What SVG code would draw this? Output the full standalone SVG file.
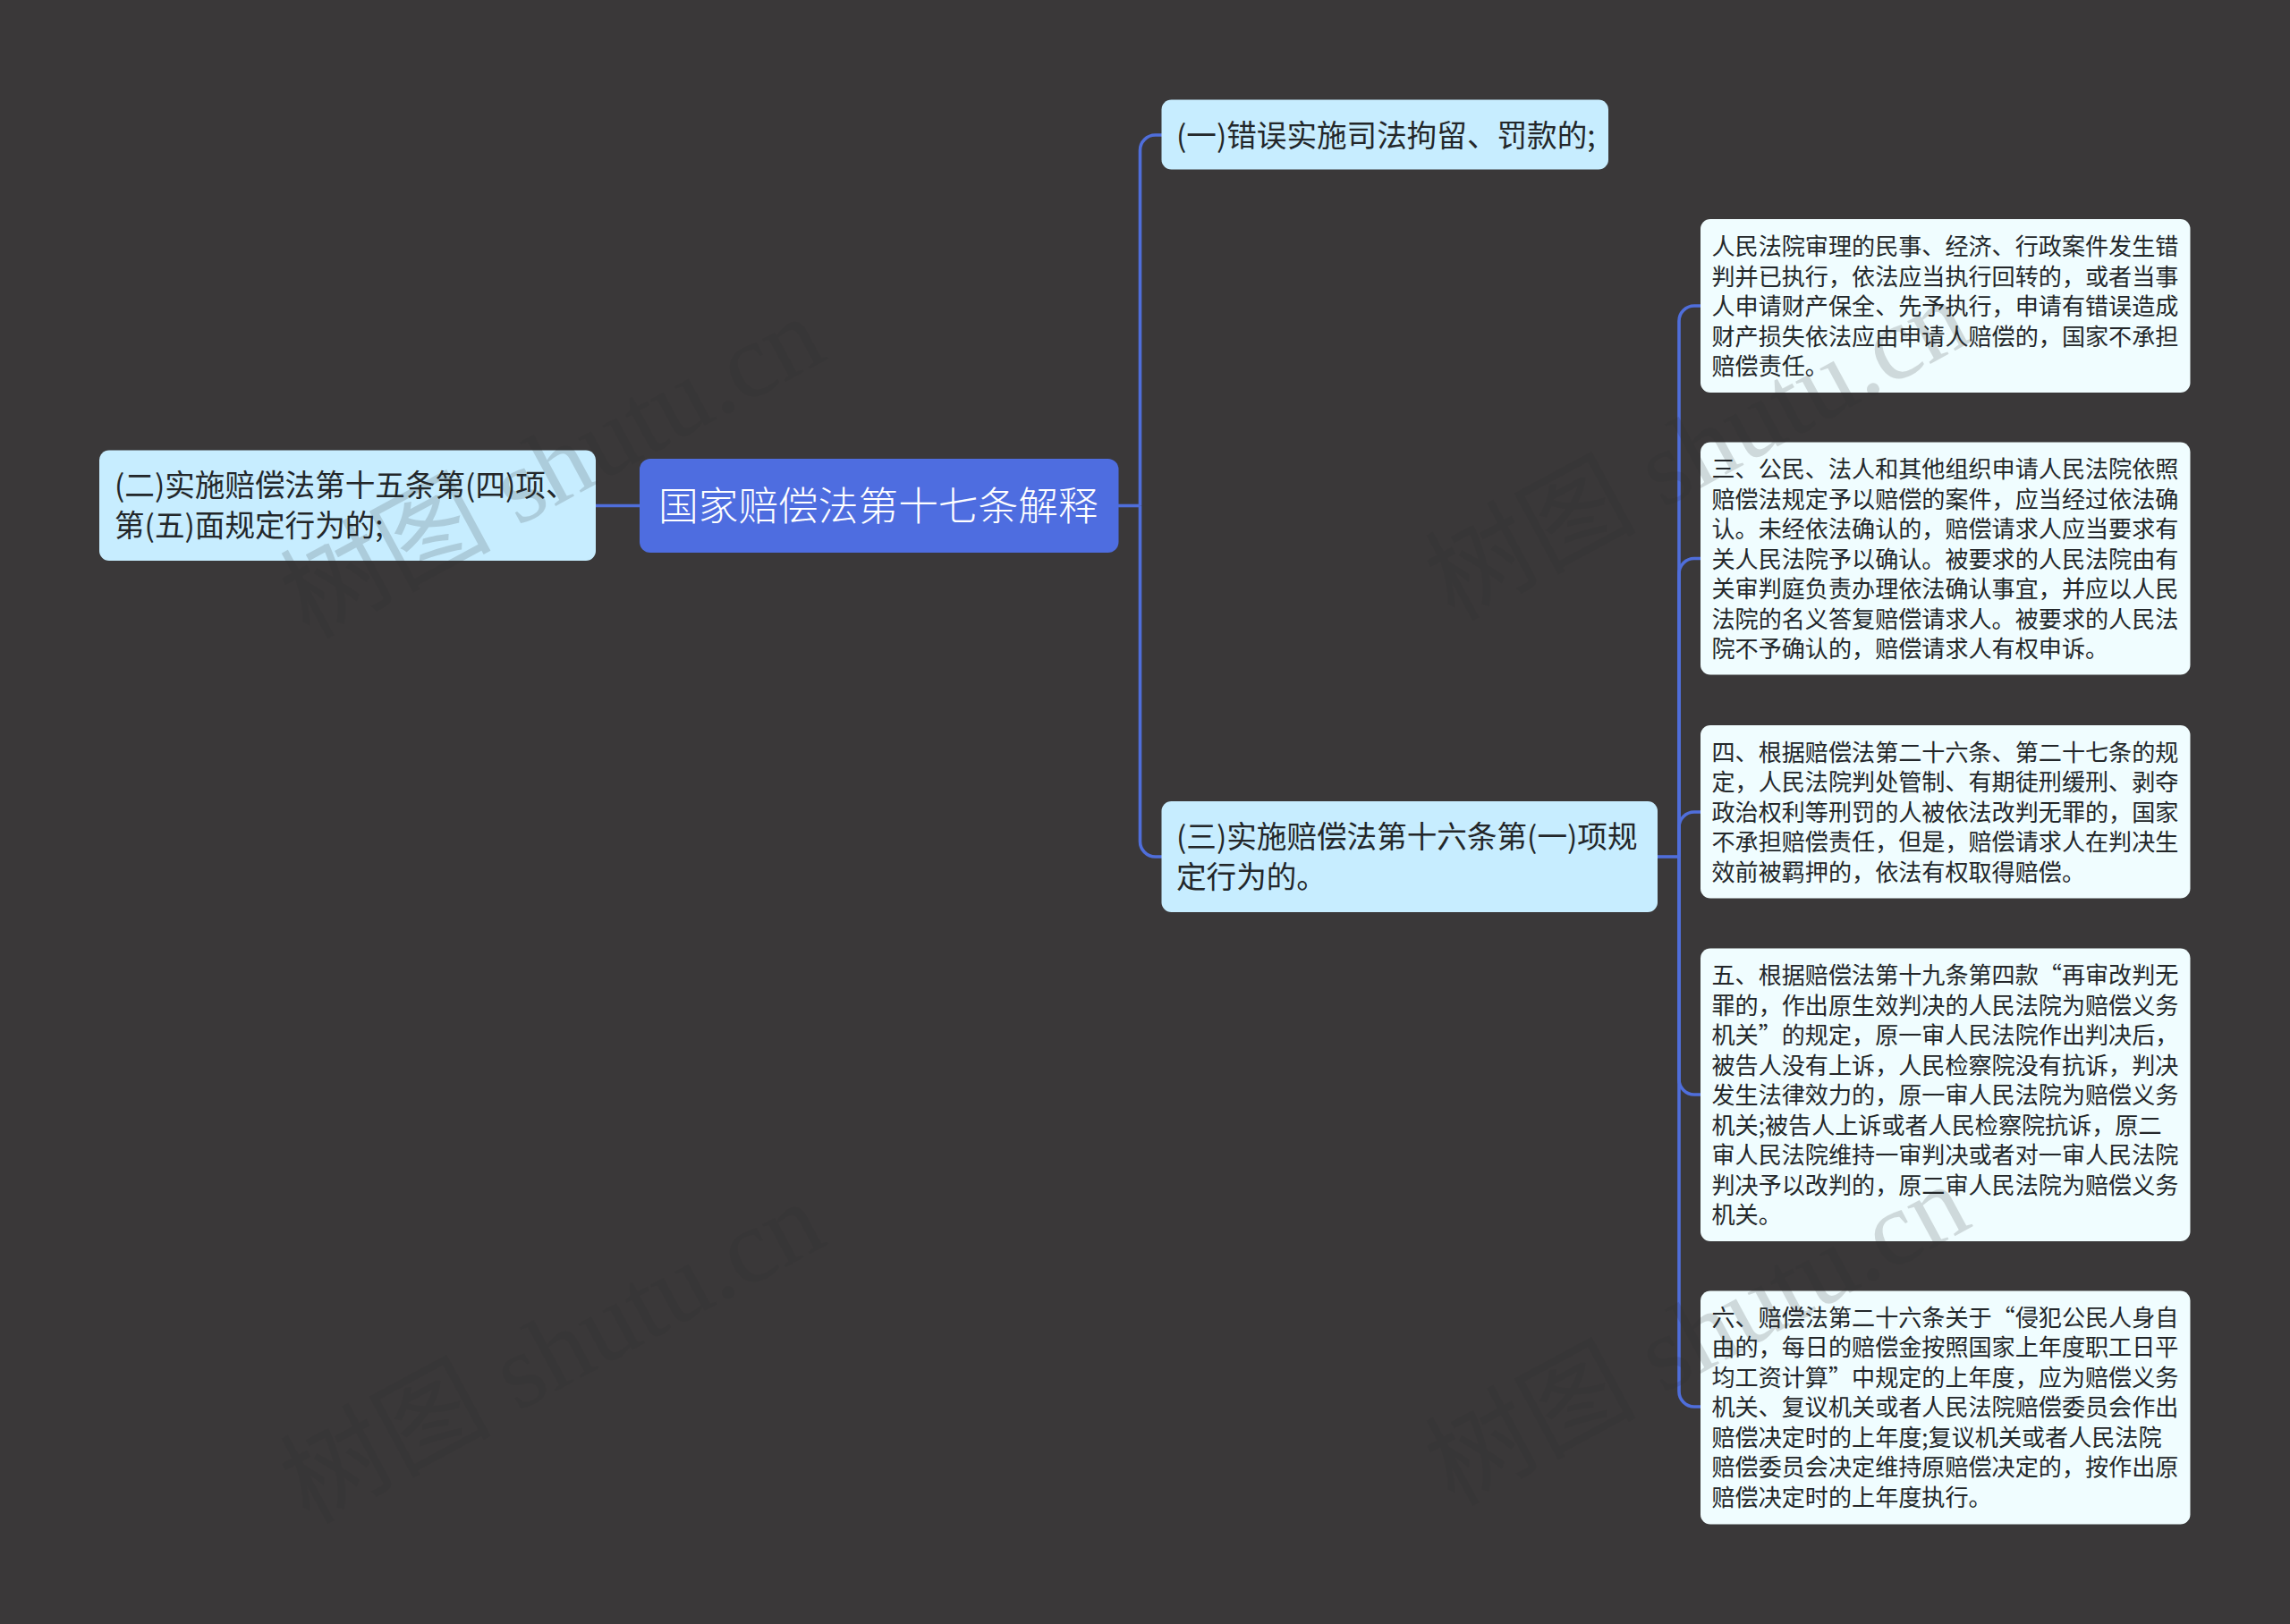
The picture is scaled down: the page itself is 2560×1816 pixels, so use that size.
<svg xmlns="http://www.w3.org/2000/svg" width="2560" height="1816" viewBox="0 0 2560 1816" lang="zh-CN">
<style>
text{font-family:"Noto Sans CJK SC","Noto Sans",sans-serif;font-weight:400;}
.c{fill:none;stroke:#4f6edb;stroke-width:3.6;}
.root{fill:#4e6de0;}
.mid{fill:#c7edff;}
.leaf{fill:#f0fdff;}
.tr{font-size:44.7px;fill:#fff;font-weight:300;}
.tm{font-size:33.6px;fill:#23272a;}
.tl{font-size:26.1px;fill:#23272a;}
.wm{font-family:"Liberation Serif","Noto Sans CJK SC",serif;font-size:118px;font-weight:400;fill:#2e2e2e;opacity:.17;}
</style>
<rect width="2560" height="1816" fill="#3a3839"/>
<g id="connectors">
<path class="c" d="M666 565.5H715"/>
<path class="c" d="M1250 565.5H1274.5"/>
<path class="c" d="M1274.5 565.5V168a17 17 0 0 1 17-17H1299"/>
<path class="c" d="M1274.5 565.5V941a17 17 0 0 0 17 17H1299"/>
<path class="c" d="M1853 958H1877"/>
<path class="c" d="M1877 958V359a17 17 0 0 1 17-17H1901"/>
<path class="c" d="M1877 958V641.500a17 17 0 0 1 17-17H1901"/>
<path class="c" d="M1877 958V925a17 17 0 0 1 17-17H1901"/>
<path class="c" d="M1877 958V1207a17 17 0 0 0 17 17H1901"/>
<path class="c" d="M1877 958V1556a17 17 0 0 0 17 17H1901"/>
</g>
<g id="node-left">
<rect class="mid" x="111" y="503.500" width="555" height="123.500" rx="11"/>
<text class="tm" x="128" y="555">(二)实施赔偿法第十五条第(四)项、</text>
<text class="tm" x="128" y="600">第(五)面规定行为的;</text>
</g>
<g id="node-root">
<rect class="root" x="715" y="513" width="535.500" height="105" rx="12"/>
<text class="tr" x="736" y="582">国家赔偿法第十七条解释</text>
</g>
<g id="node-1">
<rect class="mid" x="1298.500" y="111.500" width="499.500" height="78" rx="11"/>
<text class="tm" x="1315" y="164">(一)错误实施司法拘留、罚款的;</text>
</g>
<g id="node-3">
<rect class="mid" x="1298.500" y="896" width="554.500" height="124" rx="11"/>
<text class="tm" x="1315" y="948">(三)实施赔偿法第十六条第(一)项规</text>
<text class="tm" x="1315" y="993">定行为的。</text>
</g>
<g id="leaf-1">
<rect class="leaf" x="1901" y="245" width="547.500" height="194" rx="11"/>
<text class="tl" x="1913.500" y="285">人民法院审理的民事、经济、行政案件发生错</text>
<text class="tl" x="1913.500" y="318.500">判并已执行，依法应当执行回转的，或者当事</text>
<text class="tl" x="1913.500" y="352">人申请财产保全、先予执行，申请有错误造成</text>
<text class="tl" x="1913.500" y="385.500">财产损失依法应由申请人赔偿的，国家不承担</text>
<text class="tl" x="1913.500" y="419">赔偿责任。</text>
</g>
<g id="leaf-2">
<rect class="leaf" x="1901" y="494.500" width="547.500" height="260" rx="11"/>
<text class="tl" x="1913.500" y="534">三、公民、法人和其他组织申请人民法院依照</text>
<text class="tl" x="1913.500" y="567.500">赔偿法规定予以赔偿的案件，应当经过依法确</text>
<text class="tl" x="1913.500" y="601">认。未经依法确认的，赔偿请求人应当要求有</text>
<text class="tl" x="1913.500" y="634.500">关人民法院予以确认。被要求的人民法院由有</text>
<text class="tl" x="1913.500" y="668">关审判庭负责办理依法确认事宜，并应以人民</text>
<text class="tl" x="1913.500" y="701.500">法院的名义答复赔偿请求人。被要求的人民法</text>
<text class="tl" x="1913.500" y="735">院不予确认的，赔偿请求人有权申诉。</text>
</g>
<g id="leaf-3">
<rect class="leaf" x="1901" y="811" width="547.500" height="193.500" rx="11"/>
<text class="tl" x="1913.500" y="850.500">四、根据赔偿法第二十六条、第二十七条的规</text>
<text class="tl" x="1913.500" y="884">定，人民法院判处管制、有期徒刑缓刑、剥夺</text>
<text class="tl" x="1913.500" y="917.500">政治权利等刑罚的人被依法改判无罪的，国家</text>
<text class="tl" x="1913.500" y="951">不承担赔偿责任，但是，赔偿请求人在判决生</text>
<text class="tl" x="1913.500" y="984.500">效前被羁押的，依法有权取得赔偿。</text>
</g>
<g id="leaf-4">
<rect class="leaf" x="1901" y="1060.500" width="547.500" height="327.500" rx="11"/>
<text class="tl" x="1913.500" y="1100">五、根据赔偿法第十九条第四款“再审改判无</text>
<text class="tl" x="1913.500" y="1133.500">罪的，作出原生效判决的人民法院为赔偿义务</text>
<text class="tl" x="1913.500" y="1167">机关”的规定，原一审人民法院作出判决后，</text>
<text class="tl" x="1913.500" y="1200.500">被告人没有上诉，人民检察院没有抗诉，判决</text>
<text class="tl" x="1913.500" y="1234">发生法律效力的，原一审人民法院为赔偿义务</text>
<text class="tl" x="1913.500" y="1267.500">机关;被告人上诉或者人民检察院抗诉，原二</text>
<text class="tl" x="1913.500" y="1301">审人民法院维持一审判决或者对一审人民法院</text>
<text class="tl" x="1913.500" y="1334.500">判决予以改判的，原二审人民法院为赔偿义务</text>
<text class="tl" x="1913.500" y="1368">机关。</text>
</g>
<g id="leaf-5">
<rect class="leaf" x="1901" y="1443.500" width="547.500" height="261" rx="11"/>
<text class="tl" x="1913.500" y="1482.500">六、赔偿法第二十六条关于“侵犯公民人身自</text>
<text class="tl" x="1913.500" y="1516">由的，每日的赔偿金按照国家上年度职工日平</text>
<text class="tl" x="1913.500" y="1549.500">均工资计算”中规定的上年度，应为赔偿义务</text>
<text class="tl" x="1913.500" y="1583">机关、复议机关或者人民法院赔偿委员会作出</text>
<text class="tl" x="1913.500" y="1616.500">赔偿决定时的上年度;复议机关或者人民法院</text>
<text class="tl" x="1913.500" y="1650">赔偿委员会决定维持原赔偿决定的，按作出原</text>
<text class="tl" x="1913.500" y="1683.500">赔偿决定时的上年度执行。</text>
</g>
<g id="watermark">
<text class="wm" transform="translate(345 715) rotate(-28.400)">树图 shutu.cn</text>
<text class="wm" transform="translate(1625 695) rotate(-28.400)">树图 shutu.cn</text>
<text class="wm" transform="translate(345 1705) rotate(-28.400)">树图 shutu.cn</text>
<text class="wm" transform="translate(1625 1685) rotate(-28.400)">树图 shutu.cn</text>
</g>
</svg>
